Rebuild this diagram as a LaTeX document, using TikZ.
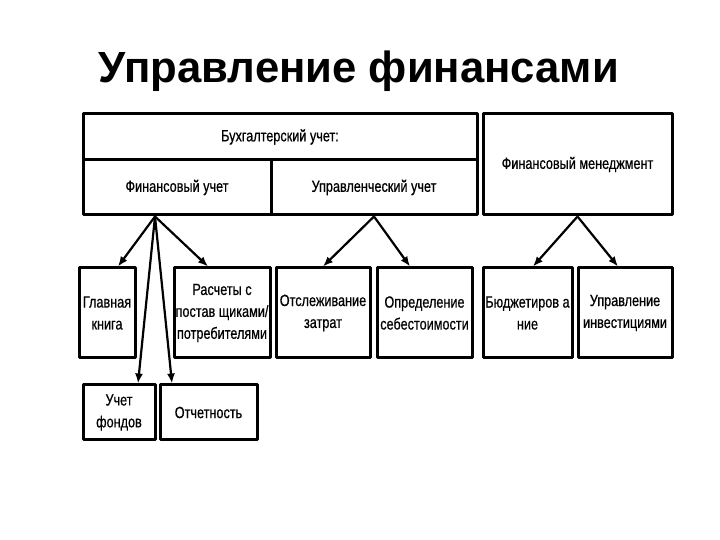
\documentclass[tikz,border=0pt]{standalone}
\usepackage{fontspec}
\usetikzlibrary{arrows.meta}
\setmainfont{Liberation Sans}
\newfontfamily\boxfont[FakeStretch=0.78,FakeBold=0.6]{Liberation Sans}
\tikzset{
  block/.style={draw=black,rectangle,line width=3bp,inner sep=0pt,align=center,
    font=\boxfont\fontsize{16.3}{22}\selectfont},
  link/.style={->,line width=2.2bp},
}
\begin{document}
\begin{tikzpicture}[>={Latex[length=10bp,width=8bp]},line join=bevel,]
    \useasboundingbox (0bp,0bp) rectangle (720bp,540bp);
    %%
    \node (title) at (359.0bp,457.0bp) [anchor=base,font=\bfseries\fontsize{43.8}{50}\selectfont] {Управление финансами};
    \node (buh) at (280.0bp,403.0bp) [block,minimum width=394bp,minimum height=46bp] {Бухгалтерский учет:};
    \node (fin) at (177.0bp,352.5bp) [block,minimum width=188bp,minimum height=55bp] {Финансовый учет};
    \node (upr) at (374.0bp,352.5bp) [block,minimum width=206bp,minimum height=55bp] {Управленческий учет};
    \node (fm) at (577.5bp,375.5bp) [block,minimum width=189bp,minimum height=101bp] {Финансовый менеджмент};
    \node (gl) at (107.0bp,227.0bp) [block,minimum width=56bp,minimum height=90bp] {Главная\\книга};
    \node (rasch) at (222.0bp,227.0bp) [block,minimum width=96bp,minimum height=90bp] {Расчеты с\\постав щиками/\\потребителями};
    \node (otsl) at (323.0bp,227.0bp) [block,minimum width=94bp,minimum height=90bp] {Отслеживание\\затрат};
    \node (opr) at (424.5bp,227.0bp) [block,minimum width=95bp,minimum height=90bp] {Определение\\себестоимости};
    \node (budg) at (527.5bp,227.0bp) [block,minimum width=89bp,minimum height=90bp] {Бюджетиров а\\ние};
    \node (inv) at (625.0bp,227.0bp) [block,minimum width=94bp,minimum height=90bp] {Управление\\инвестициями};
    \node (fond) at (119.0bp,127.5bp) [block,minimum width=72bp,minimum height=55bp] {Учет\\фондов};
    \node (otch) at (208.5bp,127.5bp) [block,minimum width=97bp,minimum height=55bp] {Отчетность};
    \draw [link] ([xshift=-22bp]fin.south) -- ([xshift=11bp]gl.north);
    \draw [link] ([xshift=-22bp]fin.south) -- ([xshift=-14bp]rasch.north);
    \draw [link] ([xshift=-22bp]fin.south) -- ([xshift=19bp]fond.north);
    \draw [link] ([xshift=-22bp]fin.south) -- ([xshift=-36.5bp]otch.north);
    \draw [link] (upr.south) -- (otsl.north);
    \draw [link] (upr.south) -- ([xshift=-14.5bp]opr.north);
    \draw [link] (fm.south) -- ([xshift=5.5bp]budg.north);
    \draw [link] (fm.south) -- ([xshift=-7bp]inv.north);
    %
\end{tikzpicture}
\end{document}
